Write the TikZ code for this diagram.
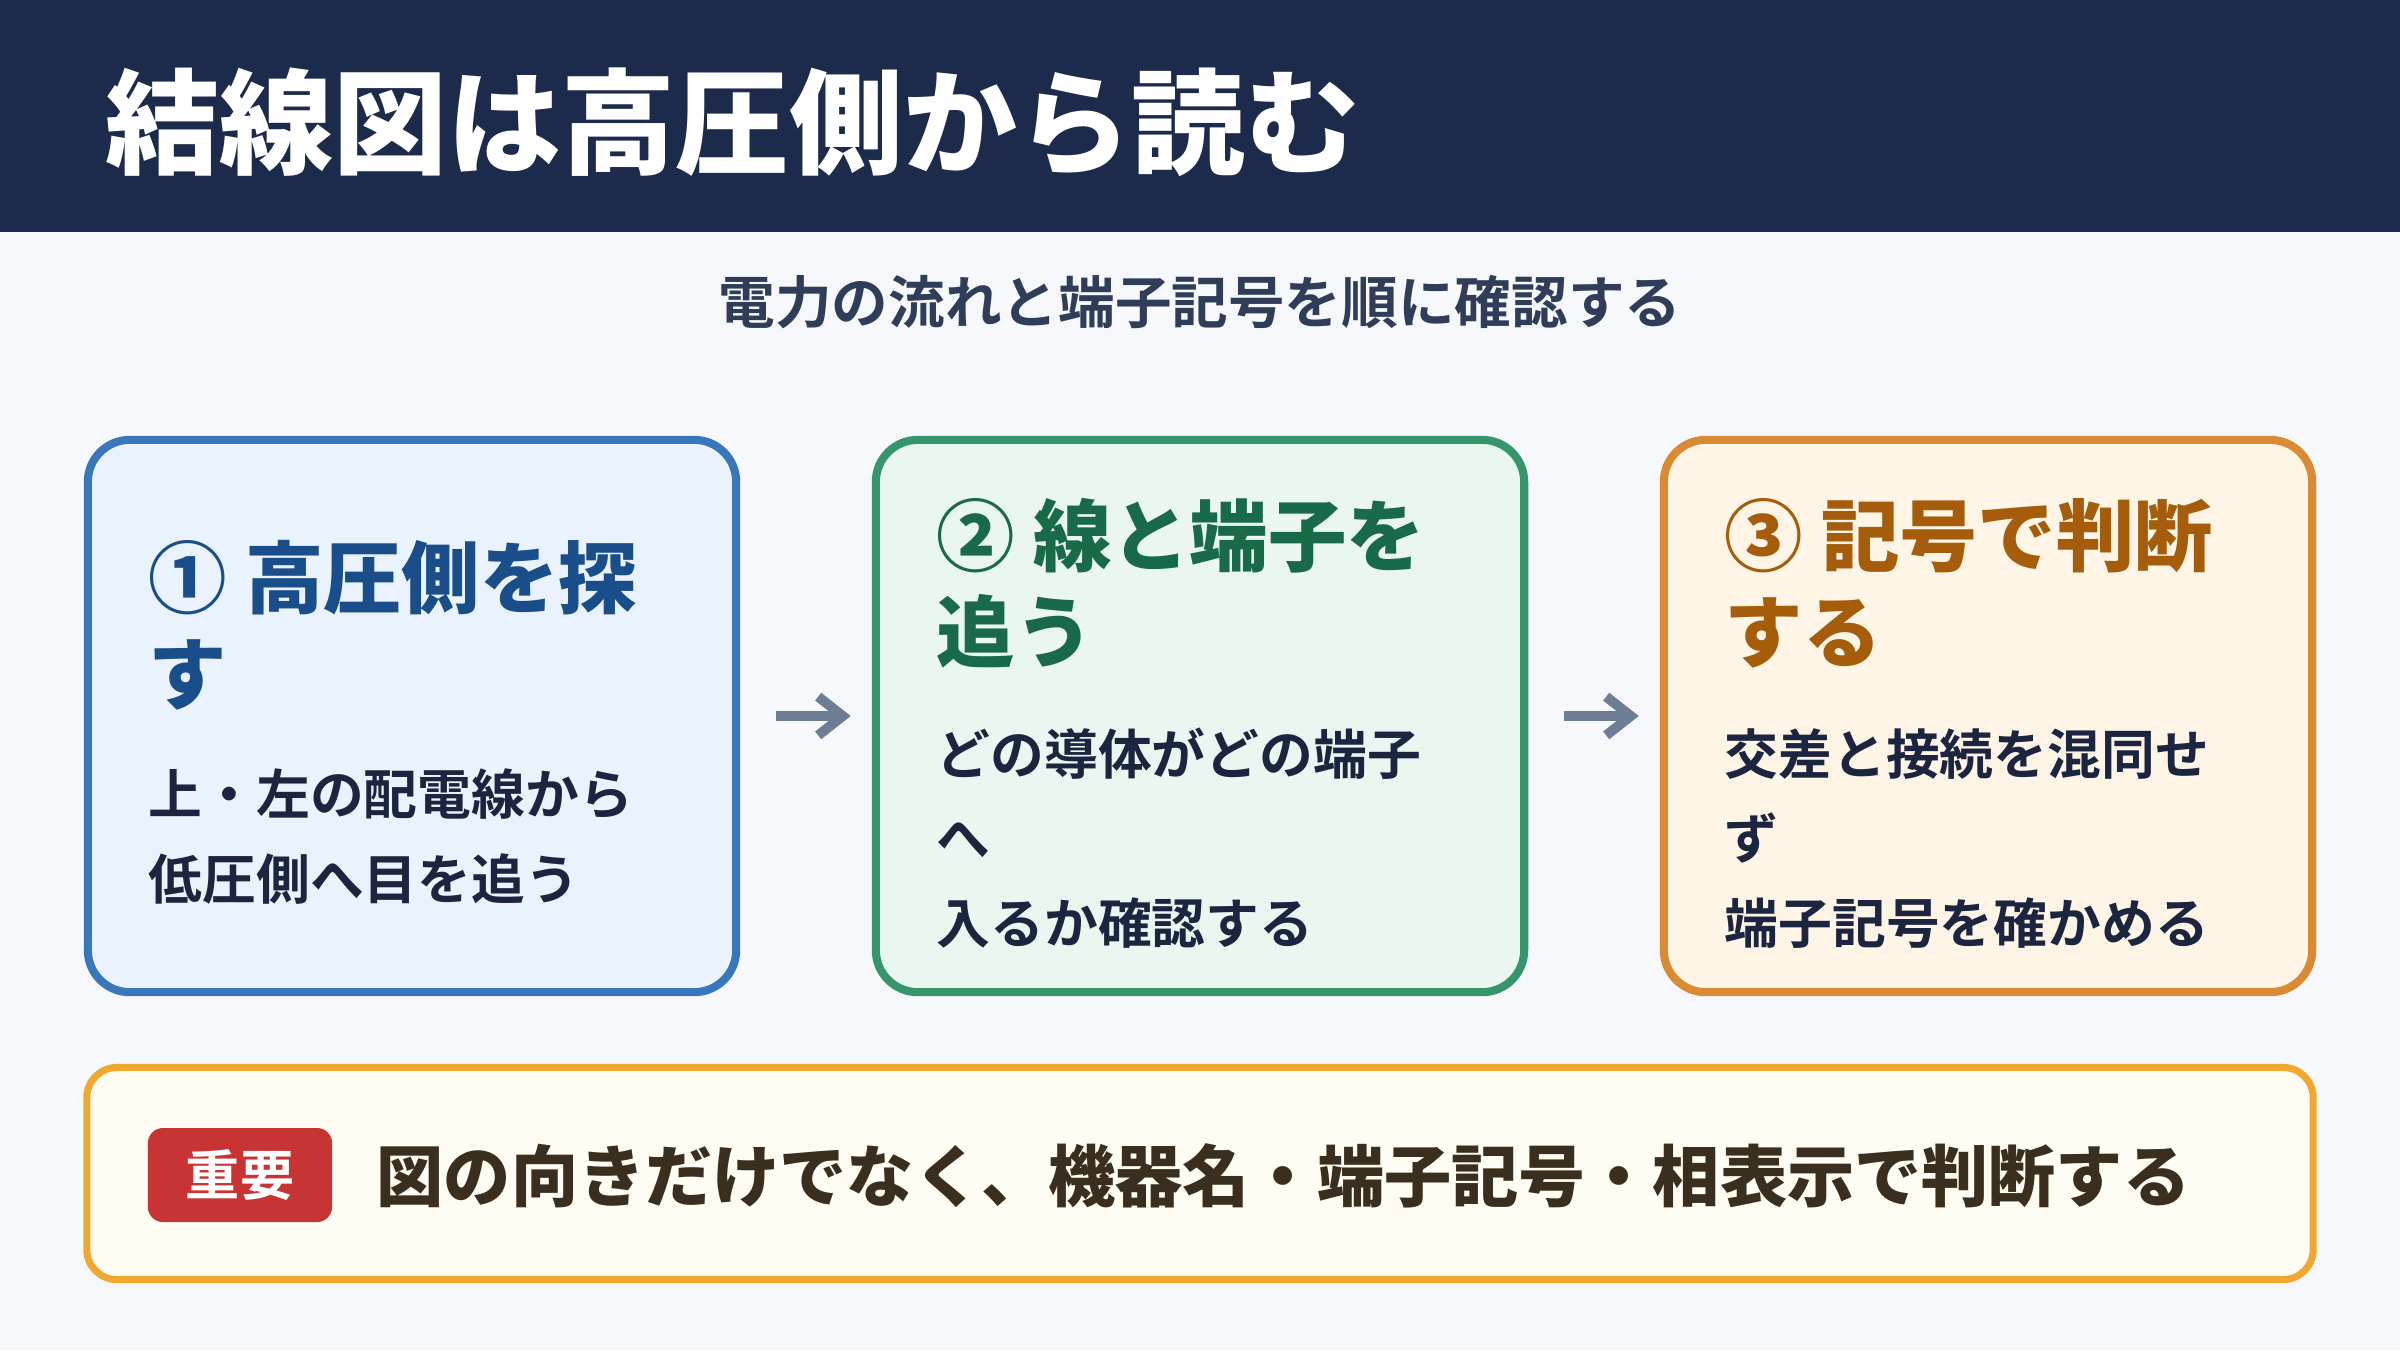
\documentclass[tikz,border=0pt]{standalone}
\usepackage{fontspec}
\setmainfont{Noto Sans CJK JP}[BoldFont={Noto Sans CJK JP Bold}]
\newfontfamily\heavy{Noto Sans CJK JP Black}
\usetikzlibrary{arrows.meta}

\definecolor{headc}{HTML}{1C2B4B}
\definecolor{pagec}{HTML}{F6F8FC}
\definecolor{subc}{HTML}{2F3D58}
\definecolor{bodyc}{HTML}{1B2540}
\definecolor{arrowc}{HTML}{6E7D96}
\definecolor{blueline}{HTML}{3A76BA}
\definecolor{bluefill}{HTML}{EAF2FD}
\definecolor{bluetext}{HTML}{1A4E8A}
\definecolor{greenline}{HTML}{35966C}
\definecolor{greenfill}{HTML}{EAF7F0}
\definecolor{greentext}{HTML}{186A48}
\definecolor{orangeline}{HTML}{D98A32}
\definecolor{orangefill}{HTML}{FFF5E6}
\definecolor{orangetext}{HTML}{A65D0B}
\definecolor{noteline}{HTML}{F0A830}
\definecolor{notefill}{HTML}{FFFCF3}
\definecolor{notetext}{HTML}{3A2E1E}
\definecolor{badgec}{HTML}{C83434}

\begin{document}
\begin{tikzpicture}[x=0.01cm, y=-0.01cm,
  card/.style={draw, rounded corners=0.42cm, line width=2.3pt, minimum width=6.48cm, minimum height=5.52cm, inner sep=0pt},
  steptitle/.style={anchor=base west, align=left, inner sep=0pt, font=\heavy\fontsize{22.3}{27.3}\selectfont},
  stepbody/.style={anchor=base west, align=left, inner sep=0pt, text=bodyc, font=\bfseries\fontsize{15.3}{23.9}\selectfont},
  flow/.style={draw=arrowc, line width=2.8pt, -{Straight Barb[length=7pt,width=11pt]}, shorten <=0.36cm, shorten >=0.21cm}]

% page and header band
\fill[pagec] (0,0) rectangle (2400,1350);
\fill[headc] (0,0) rectangle (2400,232);
\node[anchor=base west, inner sep=0pt, text=white, font=\heavy\fontsize{32.4}{38}\selectfont] (head) at (105,165) {結線図は高圧側から読む};
\node[anchor=base, inner sep=0pt, text=subc, font=\bfseries\fontsize{16.1}{20}\selectfont] (sub) at (1200,323) {電力の流れと端子記号を順に確認する};

% three steps (base = last line)
\node[card, draw=blueline, fill=bluefill] (step1) at (412,716) {};
\node[card, draw=greenline, fill=greenfill] (step2) at (1200,716) {};
\node[card, draw=orangeline, fill=orangefill] (step3) at (1988,716) {};

\node[steptitle, text=bluetext] (title1) at (148,703) {① 高圧側を探\\す};
\node[stepbody] (body1) at (148,899) {上・左の配電線から\\低圧側へ目を追う};

\node[steptitle, text=greentext] (title2) at (936,661) {② 線と端子を\\追う};
\node[stepbody] (body2) at (936,943) {どの導体がどの端子\\へ\\入るか確認する};

\node[steptitle, text=orangetext] (title3) at (1724,661) {③ 記号で判断\\する};
\node[stepbody] (body3) at (1724,943) {交差と接続を混同せ\\ず\\端子記号を確かめる};

\draw[flow] (step1) -- (step2);
\draw[flow] (step2) -- (step3);

% note at the bottom
\node[draw=noteline, fill=notefill, line width=2pt, rounded corners=0.3cm, minimum width=22.25cm, minimum height=2.12cm] (note) at (1200,1173.5) {};
\node[fill=badgec, rounded corners=0.15cm, minimum width=1.84cm, minimum height=0.94cm, inner sep=0pt, text=white, font=\bfseries\fontsize{15.4}{18}\selectfont] (badge) at (240,1175) {重要};
\node[anchor=base west, inner sep=0pt, text=notetext, font=\heavy\fontsize{19.1}{23}\selectfont] (notetext) at (376,1201) {図の向きだけでなく、機器名・端子記号・相表示で判断する};
\end{tikzpicture}
\end{document}
